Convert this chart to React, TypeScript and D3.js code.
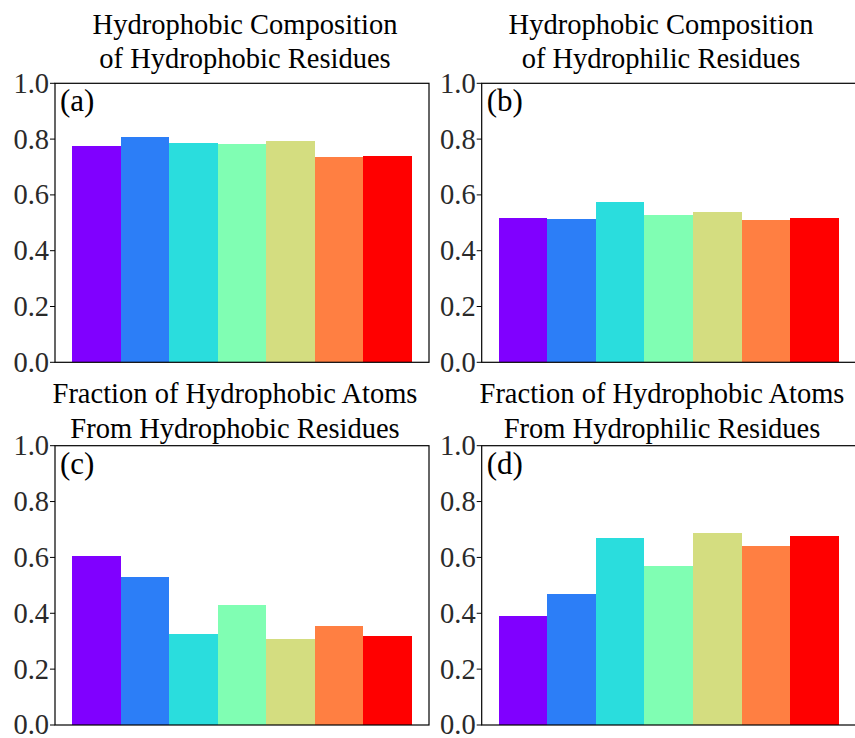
import React from "react";
import * as d3 from "d3";

// Seven residue groups, coloured along the rainbow colormap
const groups = ["G1", "G2", "G3", "G4", "G5", "G6", "G7"];
const barColors = ["#8000ff", "#2c7ef7", "#2adddd", "#80feb3", "#d4dd80", "#ff7f42", "#ff0000"];

// Panel values
const compHydrophobicRes = [0.775, 0.808, 0.786, 0.783, 0.793, 0.736, 0.74];
const compHydrophilicRes = [0.517, 0.514, 0.575, 0.528, 0.539, 0.51, 0.517];
const atomsFromHydrophobicRes = [0.605, 0.53, 0.326, 0.43, 0.308, 0.354, 0.319];
const atomsFromHydrophilicRes = [0.39, 0.469, 0.669, 0.569, 0.687, 0.641, 0.677];

const yTicks = [0, 0.2, 0.4, 0.6, 0.8, 1.0];
const panelTags = ["(a)", "(b)", "(c)", "(d)"];
const panelTitles = [
  ["Hydrophobic Composition", "of Hydrophobic Residues"],
  ["Hydrophobic Composition", "of Hydrophilic Residues"],
  ["Fraction of Hydrophobic Atoms", "From Hydrophobic Residues"],
  ["Fraction of Hydrophobic Atoms", "From Hydrophilic Residues"],
];
const panelValues = [compHydrophobicRes, compHydrophilicRes, atomsFromHydrophobicRes, atomsFromHydrophilicRes];

const W = 855;
const H = 738;
const FONT = "Liberation Serif, DejaVu Serif, serif";

// Axes boxes in pixels
const boxes = [
  { left: 55, right: 429, top: 83.3, bottom: 362.3, titleX: 245, title1: 34, title2: 67.7 },
  { left: 481.7, right: 855.7, top: 83.3, bottom: 362.3, titleX: 661, title1: 34, title2: 67.7 },
  { left: 55, right: 429, top: 445.7, bottom: 725, titleX: 235, title1: 403.3, title2: 438 },
  { left: 481.7, right: 855.7, top: 445.7, bottom: 725, titleX: 662, title1: 403.3, title2: 438 },
];

function Panel({ idx }: { idx: number }) {
  const b = boxes[idx];
  const values = panelValues[idx];
  const x = d3
    .scaleBand<string>()
    .domain(groups)
    .range([b.left, b.right])
    .paddingInner(0)
    .paddingOuter(0.35);
  const y = d3.scaleLinear().domain([0, 1]).range([b.bottom, b.top]);
  const fmt = d3.format(".1f");

  return (
    <g>
      <text x={b.titleX} y={b.title1} textAnchor="middle" style={{ fontFamily: FONT, fontSize: "28.5px" }} fill="#000">
        {panelTitles[idx][0]}
      </text>
      <text x={b.titleX} y={b.title2} textAnchor="middle" style={{ fontFamily: FONT, fontSize: "28.5px" }} fill="#000">
        {panelTitles[idx][1]}
      </text>
      {values.map((v, i) => (
        <rect
          key={groups[i]}
          x={x(groups[i])}
          y={y(v)}
          width={x.bandwidth()}
          height={y(0) - y(v)}
          fill={barColors[i]}
          shapeRendering="crispEdges"
        />
      ))}
      <rect
        x={b.left}
        y={b.top}
        width={b.right - b.left}
        height={b.bottom - b.top}
        fill="none"
        stroke="#000"
        strokeWidth={1.2}
      />
      {yTicks.map((t) => (
        <g key={t} transform={`translate(0,${y(t)})`}>
          <line x1={b.left - 5} x2={b.left} stroke="#000" strokeWidth={1} />
          <text
            x={b.left - 6}
            dy="0.33em"
            textAnchor="end"
            style={{ fontFamily: FONT, fontSize: "28.5px" }}
            fill="#2a2a2a"
          >
            {fmt(t)}
          </text>
        </g>
      ))}
      <text x={b.left + 5} y={b.top + 28} style={{ fontFamily: FONT, fontSize: "31px" }} fill="#000">
        {panelTags[idx]}
      </text>
    </g>
  );
}

export default function App() {
  return (
    <svg
      width={W}
      height={H}
      viewBox={`0 0 ${W} ${H}`}
      style={{ position: "absolute", left: 0, top: 0, background: "#fff", fontFamily: FONT }}
    >
      <rect x={0} y={0} width={W} height={H} fill="#fff" />
      {[0, 1, 2, 3].map((i) => (
        <Panel key={i} idx={i} />
      ))}
    </svg>
  );
}
